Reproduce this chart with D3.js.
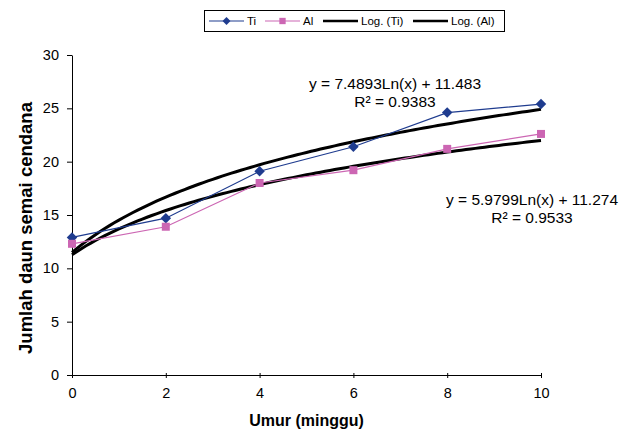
<!DOCTYPE html>
<html>
<head>
<meta charset="utf-8">
<script src="https://cdn.jsdelivr.net/npm/d3@7"></script>
<style>
  body { margin: 0; background: #fff; }
  text { font-family: Arial, "Liberation Sans", sans-serif; }
</style>
</head>
<body>
<div id="chart"></div>
<script>
// data
const weeks = [0, 2, 4, 6, 8, 10]
const ti = [12.9, 14.7, 19.1, 21.4, 24.6, 25.4]
const al = [12.3, 13.9, 18.0, 19.2, 21.2, 22.6]
// log trendline coefficients (Excel, x = category index 1..6)
const trendTi = [7.4893, 11.483]
const trendAl = [5.9799, 11.274]
const xTicks = [0, 2, 4, 6, 8, 10]
const yTicks = [0, 5, 10, 15, 20, 25, 30]

const width = 629, height = 445
const margin = { left: 72, right: 88, top: 55, bottom: 70 }

const svg = d3.select('#chart').append('svg')
  .attr('width', width)
  .attr('height', height)

const x = d3.scaleLinear().domain([0, 10]).range([margin.left, width - margin.right])
const y = d3.scaleLinear().domain([0, 30]).range([height - margin.bottom, margin.top])

// axes
const xAxis = svg.append('g')
  .attr('transform', `translate(0,${y(0)})`)
  .call(d3.axisBottom(x).tickValues(xTicks).tickSize(5).tickSizeOuter(0).tickPadding(8))
xAxis.selectAll('.tick line').attr('transform', 'translate(0,-2)')

const yAxis = svg.append('g')
  .attr('transform', `translate(${x(0)},0)`)
  .call(d3.axisLeft(y).tickValues(yTicks).tickSize(5).tickSizeOuter(0).tickPadding(8))

svg.selectAll('.domain').attr('stroke', '#000')
svg.selectAll('.tick line').attr('stroke', '#000')
svg.selectAll('.tick text')
  .attr('fill', '#000')
  .style('font-size', '14.5px')
  .style('font-family', 'Arial, "Liberation Sans", sans-serif')

// axis titles
svg.append('text')
  .attr('x', (x(0) + x(10)) / 2)
  .attr('y', 426)
  .attr('text-anchor', 'middle')
  .style('font-size', '16px')
  .style('font-weight', 'bold')
  .text('Umur (minggu)')

svg.append('text')
  .attr('transform', `translate(32,${(y(0) + y(30)) / 2 + 13}) rotate(-90)`)
  .attr('text-anchor', 'middle')
  .style('font-size', '18.5px')
  .style('font-weight', 'bold')
  .text('Jumlah daun semai cendana')

// trendlines
const trendPts = c => d3.range(0, 10.01, 0.1).map(w => [w, c[0] * Math.log(w / 2 + 1) + c[1]])
const line = d3.line().x(d => x(d[0])).y(d => y(d[1]))

;[trendTi, trendAl].forEach(c => {
  svg.append('path')
    .attr('d', line(trendPts(c)))
    .attr('fill', 'none')
    .attr('stroke', '#000')
    .attr('stroke-width', 3)
})

// data series
const series = [
  { name: 'Ti', values: ti, color: '#1f3c8f', symbol: d3.symbolDiamond2, size: 70 },
  { name: 'Al', values: al, color: '#cc66b3', symbol: d3.symbolSquare, size: 64 }
]

series.forEach(s => {
  const pts = weeks.map((w, i) => [w, s.values[i]])
  svg.append('path')
    .attr('d', line(pts))
    .attr('fill', 'none')
    .attr('stroke', s.color)
    .attr('stroke-width', 1.2)
  svg.append('g').selectAll('path')
    .data(pts)
    .join('path')
    .attr('transform', d => `translate(${x(d[0])},${y(d[1])})`)
    .attr('d', d3.symbol().type(s.symbol).size(s.size))
    .attr('fill', s.color)
})

// equations
const eq = [
  { lines: ['y = 7.4893Ln(x) + 11.483', 'R² = 0.9383'], cx: 395, y0: 89 },
  { lines: ['y = 5.9799Ln(x) + 11.274', 'R² = 0.9533'], cx: 532, y0: 205 }
]
eq.forEach(e => {
  e.lines.forEach((t, i) => {
    svg.append('text')
      .attr('x', e.cx)
      .attr('y', e.y0 + i * 18)
      .attr('text-anchor', 'middle')
      .style('font-size', '15.5px')
      .text(t)
  })
})

// legend
const legend = svg.append('g')
legend.append('rect')
  .attr('x', 204.5).attr('y', 10.5)
  .attr('width', 300).attr('height', 21)
  .attr('fill', '#fff')
  .attr('stroke', '#000')

const legendItems = [
  { label: 'Ti', color: '#1f3c8f', symbol: d3.symbolDiamond2, x: 209, w: 1.2 },
  { label: 'Al', color: '#cc66b3', symbol: d3.symbolSquare, x: 265, w: 1.2 },
  { label: 'Log. (Ti)', color: '#000', symbol: null, x: 323, w: 2.6 },
  { label: 'Log. (Al)', color: '#000', symbol: null, x: 413, w: 2.6 }
]
legendItems.forEach(d => {
  legend.append('line')
    .attr('x1', d.x).attr('x2', d.x + 35)
    .attr('y1', 21).attr('y2', 21)
    .attr('stroke', d.color)
    .attr('stroke-width', d.w)
  if (d.symbol) {
    legend.append('path')
      .attr('transform', `translate(${d.x + 17.5},21)`)
      .attr('d', d3.symbol().type(d.symbol).size(40))
      .attr('fill', d.color)
  }
  legend.append('text')
    .attr('x', d.x + 38)
    .attr('y', 25)
    .style('font-size', '11.5px')
    .text(d.label)
})
</script>
</body>
</html>
